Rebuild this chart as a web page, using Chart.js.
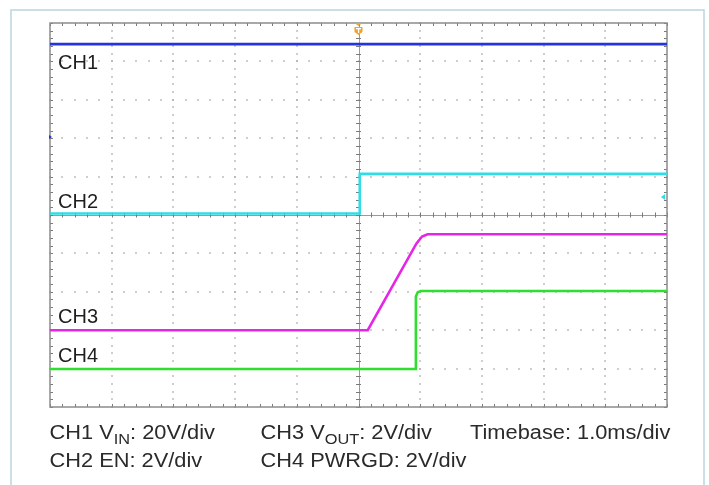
<!DOCTYPE html>
<html>
<head>
<meta charset="utf-8">
<script src="https://cdn.jsdelivr.net/npm/chart.js@4/dist/chart.umd.min.js"></script>
<style>
html,body{margin:0;padding:0;background:#fff;}
#wrap{width:709px;height:485px;position:relative;}
</style>
</head>
<body>
<div id="wrap"><canvas id="c" width="709" height="485"></canvas></div>
<script>
// Time axis in ms (trigger at 0), vertical values in screen divisions (0..10)
const xRange = [-5, 5];
const yRange = [0, 10];

const ch1Time = [-5, 5];
const ch1Div  = [9.45, 9.45];

const ch2Time = [-5, 0.02, 0.02, 5];
const ch2Div  = [5.04, 5.04, 6.07, 6.07];

const ch3Time = [-5, 0.15, 0.94, 1.03, 1.12, 5];
const ch3Div  = [2.0, 2.0, 4.26, 4.44, 4.5, 4.5];

const ch4Time = [-5, 0.93, 0.93, 0.96, 1.01, 5];
const ch4Div  = [0.99, 0.99, 2.88, 2.99, 3.02, 3.02];

const channelNames = ['CH1', 'CH2', 'CH3', 'CH4'];
const channelLabelDiv = [8.80, 5.18, 2.19, 1.17];
const channelColors = ['#2234dc', '#30dde6', '#e626e6', '#2fdf2f'];

const footerLines = [
  [ [['CH1 V',0],['IN',1],[': 20V/div',0]], [['CH3 V',0],['OUT',1],[': 2V/div',0]], [['Timebase: 1.0ms/div',0]] ],
  [ [['CH2 EN: 2V/div',0]], [['CH4 PWRGD: 2V/div',0]], [] ]
];

function pts(t, v){ return t.map((x,i)=>({x:x, y:v[i]})); }

const datasets = [
  {data: pts(ch1Time, ch1Div), borderColor: channelColors[0]},
  {data: pts(ch2Time, ch2Div), borderColor: channelColors[1]},
  {data: pts(ch3Time, ch3Div), borderColor: channelColors[2]},
  {data: pts(ch4Time, ch4Div), borderColor: channelColors[3]}
].map(d => Object.assign(d, {borderWidth: 2.6, pointRadius: 0, tension: 0, fill: false}));

const scopePlugin = {
  id: 'scope',
  beforeDraw(chart){
    const ctx = chart.ctx;
    ctx.save();
    ctx.fillStyle = '#fff';
    ctx.fillRect(0,0,chart.width,chart.height);
    ctx.strokeStyle = '#bcd4de';
    ctx.lineWidth = 1.5;
    ctx.beginPath();
    ctx.moveTo(11, 495); ctx.lineTo(11, 10); ctx.lineTo(704, 10); ctx.lineTo(704, 495);
    ctx.stroke();
    ctx.restore();
  },
  beforeDatasetsDraw(chart){
    const ctx = chart.ctx, xs = chart.scales.x, ys = chart.scales.y;
    const L = xs.getPixelForValue(xRange[0]), R = xs.getPixelForValue(xRange[1]);
    const T = ys.getPixelForValue(yRange[1]), B = ys.getPixelForValue(yRange[0]);
    const xc = xs.getPixelForValue(0), yc = ys.getPixelForValue(5);
    ctx.save();
    // dotted grid
    ctx.fillStyle = '#a8a8a8';
    for (let i = -4; i <= 4; i++) {
      if (i === 0) continue;
      const x = xs.getPixelForValue(i);
      for (let j = 0; j <= 50; j++) {
        const y = ys.getPixelForValue(j/5);
        ctx.fillRect(Math.round(x)-0.75, Math.round(y)-0.75, 1.5, 1.5);
      }
    }
    for (let k = 1; k <= 9; k++) {
      if (k === 5) continue;
      const y = ys.getPixelForValue(k);
      for (let j = 0; j <= 50; j++) {
        const x = xs.getPixelForValue(-5 + j/5);
        ctx.fillRect(Math.round(x)-0.75, Math.round(y)-0.75, 1.5, 1.5);
      }
    }
    // center axes
    ctx.strokeStyle = '#9a9a9a';
    ctx.lineWidth = 1;
    ctx.beginPath();
    ctx.moveTo(L, Math.round(yc)+0.5); ctx.lineTo(R, Math.round(yc)+0.5);
    ctx.moveTo(Math.round(xc)+0.5, T); ctx.lineTo(Math.round(xc)+0.5, B);
    ctx.stroke();
    ctx.strokeStyle = '#7a7a7a';
    ctx.beginPath();
    for (let j = 0; j <= 50; j++) {
      const x = Math.round(xs.getPixelForValue(-5 + j/5)) + 0.5;
      ctx.moveTo(x, yc-2.5); ctx.lineTo(x, yc+2.5);
      ctx.moveTo(x, T); ctx.lineTo(x, T+3);
      ctx.moveTo(x, B); ctx.lineTo(x, B-3);
      const y = Math.round(ys.getPixelForValue(j/5)) + 0.5;
      ctx.moveTo(xc-2.5, y); ctx.lineTo(xc+2.5, y);
      ctx.moveTo(L, y); ctx.lineTo(L+3, y);
      ctx.moveTo(R, y); ctx.lineTo(R-3, y);
    }
    ctx.stroke();
    // border
    ctx.strokeStyle = '#8c8c8c';
    ctx.lineWidth = 1.5;
    ctx.strokeRect(L, T, R-L, B-T);
    ctx.restore();
  },
  afterDatasetsDraw(chart){
    const ctx = chart.ctx, xs = chart.scales.x, ys = chart.scales.y;
    const L = xs.getPixelForValue(xRange[0]), R = xs.getPixelForValue(xRange[1]);
    const T = ys.getPixelForValue(yRange[1]);
    const xc = xs.getPixelForValue(0);
    ctx.save();
    // channel labels
    ctx.fillStyle = '#1e1e1e';
    ctx.font = '20px "Liberation Sans", Arial, sans-serif';
    ctx.textBaseline = 'alphabetic';
    channelNames.forEach((n,i)=>{
      ctx.fillText(n, L + 8, ys.getPixelForValue(channelLabelDiv[i]));
    });
    // trigger marker
    ctx.fillStyle = '#f4a12a';
    ctx.beginPath();
    ctx.moveTo(xc-4, T); ctx.lineTo(xc+4, T); ctx.lineTo(xc, T+3); ctx.closePath(); ctx.fill();
    ctx.beginPath();
    ctx.moveTo(xc-4, T+4); ctx.lineTo(xc+4, T+4); ctx.lineTo(xc+4, T+9); ctx.lineTo(xc, T+12); ctx.lineTo(xc-4, T+9); ctx.closePath(); ctx.fill();
    ctx.fillStyle = '#fff';
    ctx.fillRect(xc-2.5, T+5, 5, 1.3);
    ctx.fillRect(xc-0.6, T+5, 1.3, 5);
    // CH1 ground marker (left)
    ctx.fillStyle = channelColors[0];
    const yg = ys.getPixelForValue(7.03);
    ctx.beginPath(); ctx.moveTo(L-1, yg-2); ctx.lineTo(L+2, yg); ctx.lineTo(L-1, yg+2); ctx.closePath(); ctx.fill();
    // trigger level marker (right)
    ctx.fillStyle = channelColors[1];
    const yt = ys.getPixelForValue(5.47);
    ctx.beginPath(); ctx.moveTo(R-2, yt-3); ctx.lineTo(R-6, yt); ctx.lineTo(R-2, yt+3); ctx.closePath(); ctx.fill();
    // footer
    const colX = [49.5, 260.5, 470];
    const baseY = [439, 467];
    const sx = 1.09;
    ctx.fillStyle = '#2a2a2a';
    footerLines.forEach((line, li)=>{
      line.forEach((segs, ci)=>{
        let x = 0;
        ctx.save();
        ctx.translate(colX[ci], baseY[li]);
        ctx.scale(sx, 1);
        segs.forEach(([txt, sub])=>{
          ctx.font = sub ? '15px "Liberation Sans", Arial, sans-serif' : '20px "Liberation Sans", Arial, sans-serif';
          ctx.fillText(txt, x, sub ? 4.5 : 0);
          x += ctx.measureText(txt).width;
        });
        ctx.restore();
      });
    });
    ctx.restore();
  }
};

new Chart(document.getElementById('c'), {
  type: 'line',
  data: { datasets },
  options: {
    responsive: false,
    animation: false,
    events: [],
    layout: { padding: { left: 50, top: 23, right: 42, bottom: 78 } },
    plugins: { legend: { display: false }, tooltip: { enabled: false } },
    scales: {
      x: { type: 'linear', min: xRange[0], max: xRange[1], display: false },
      y: { type: 'linear', min: yRange[0], max: yRange[1], display: false }
    }
  },
  plugins: [scopePlugin]
});
</script>
</body>
</html>
